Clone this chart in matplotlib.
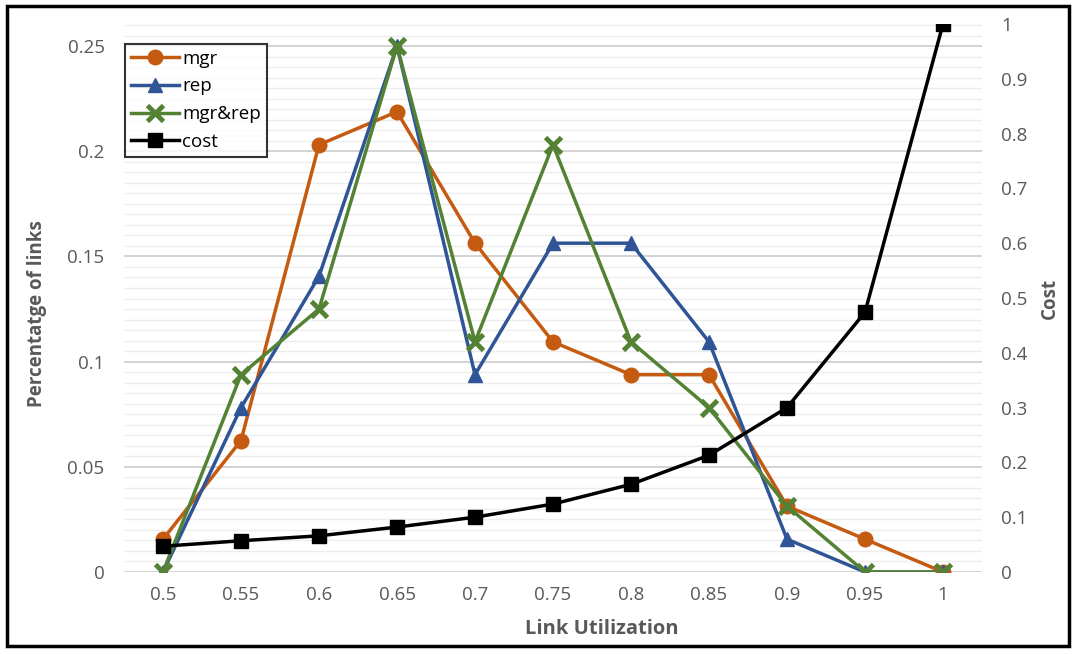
import matplotlib
matplotlib.use("Agg")
import matplotlib.pyplot as plt
from matplotlib.lines import Line2D
from matplotlib.patches import Rectangle
import numpy as np

categories = ["0.5", "0.55", "0.6", "0.65", "0.7", "0.75", "0.8", "0.85", "0.9", "0.95", "1"]
mgr = [0.0156, 0.0625, 0.2031, 0.2188, 0.1563, 0.1094, 0.0938, 0.0938, 0.0313, 0.0156, 0.0]
rep = [0.0, 0.0781, 0.1406, 0.25, 0.0938, 0.1563, 0.1563, 0.1094, 0.0156, 0.0, 0.0]
mgr_rep = [0.0, 0.0938, 0.125, 0.25, 0.1094, 0.2031, 0.1094, 0.0781, 0.0313, 0.0, 0.0]
cost = [0.047, 0.057, 0.066, 0.082, 0.100, 0.124, 0.160, 0.213, 0.300, 0.474, 1.0]
left_ticks = [0, 0.05, 0.1, 0.15, 0.2, 0.25]
left_ticklabels = ["0", "0.05", "0.1", "0.15", "0.2", "0.25"]
right_ticks = [0, 0.1, 0.2, 0.3, 0.4, 0.5, 0.6, 0.7, 0.8, 0.9, 1.0]
right_ticklabels = ["0", "0.1", "0.2", "0.3", "0.4", "0.5", "0.6", "0.7", "0.8", "0.9", "1"]

plt.rcParams['font.family'] = ['Open Sans', 'DejaVu Sans']

W, H = 1078, 654
fig = plt.figure(figsize=(W / 100, H / 100), dpi=100)
ax = fig.add_axes([124 / W, (H - 572) / H, (982 - 124) / W, (572 - 24) / H])
ax2 = ax.twinx()

x = np.arange(len(categories))
c_mgr = "#C55A11"
c_rep = "#2F5597"
c_mr = "#548235"

ax.set_xlim(-0.5, len(categories) - 0.5)
ax.set_ylim(0, 0.2605)
ax2.set_ylim(0, 1.0)

# gridlines
for v in np.arange(0, 0.2601, 0.005):
    major = abs(v / 0.05 - round(v / 0.05)) < 1e-6
    ax.axhline(v, color="#D0D0D0" if major else "#EDEDED", lw=1.3 if major else 1.0, zorder=0)

lw = 2.5
ax.plot(x, mgr, color=c_mgr, lw=lw, marker="o", ms=10.5, label="mgr", zorder=3)
ax.plot(x, rep, color=c_rep, lw=lw, marker="^", ms=10.5, label="rep", zorder=4)
ax.plot(x, mgr_rep, color=c_mr, lw=lw, marker="x", ms=11, mew=3.5, label="mgr&rep", zorder=5)
ax2.plot(x, cost, color="black", lw=lw, marker="s", ms=10.5, label="cost", zorder=6)

for a in (ax, ax2):
    for s in a.spines.values():
        s.set_visible(False)

tick_color = "#595959"
ax.set_xticks(x)
ax.set_xticklabels(categories)
ax.set_yticks(left_ticks)
ax.set_yticklabels(left_ticklabels)
ax2.set_yticks(right_ticks)
ax2.set_yticklabels(right_ticklabels)
ax.tick_params(axis="both", length=0, labelsize=13.5, labelcolor=tick_color)
ax.tick_params(axis="y", pad=14)
ax.tick_params(axis="x", pad=10)
ax2.tick_params(axis="y", length=0, labelsize=13.5, labelcolor=tick_color, pad=14)

ax.set_xlabel("Link Utilization", fontsize=14.5, fontweight="bold", color=tick_color)
ax.set_ylabel("Percentatge of links", fontsize=13.5, fontweight="bold", color=tick_color)
ax2.set_ylabel("Cost", fontsize=13.5, fontweight="bold", color=tick_color)
ax.xaxis.set_label_coords(602 / W, 1 - 629 / H, transform=fig.transFigure)
ax.yaxis.set_label_coords(37 / W, 1 - 314 / H, transform=fig.transFigure)
ax2.yaxis.set_label_coords(1050 / W, 1 - 298 / H, transform=fig.transFigure)
ax.xaxis.label.set_va("center")
ax.yaxis.label.set_va("center")
ax2.yaxis.label.set_va("center")

handles = [
    Line2D([], [], color=c_mgr, lw=lw, marker="o", ms=10.5),
    Line2D([], [], color=c_rep, lw=lw, marker="^", ms=10.5),
    Line2D([], [], color=c_mr, lw=lw, marker="x", ms=11, mew=3.5),
    Line2D([], [], color="black", lw=lw, marker="s", ms=10.5),
]
leg = ax2.legend(handles, ["mgr", "rep", "mgr&rep", "cost"],
                 loc="upper left", bbox_to_anchor=(125 / W, 1 - 44 / H),
                 bbox_transform=fig.transFigure, fontsize=13.5,
                 frameon=True, fancybox=False, edgecolor="black",
                 handlelength=2.6, handletextpad=0.15, labelspacing=0.52,
                 borderpad=0.3, borderaxespad=0)
leg.get_frame().set_linewidth(1.5)
leg.set_zorder(10)

fig.patches.append(Rectangle((7 / W, (H - 646) / H), (1069 - 7) / W, (646 - 6) / H,
                             transform=fig.transFigure, fill=False,
                             edgecolor="black", lw=2.5))

fig.savefig("out.png", dpi=100)
